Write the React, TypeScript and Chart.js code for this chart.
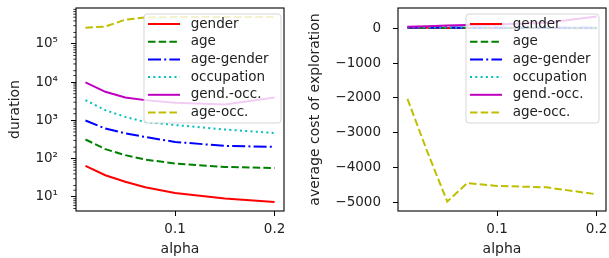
import React, { useEffect, useRef } from 'react';
import { Chart, registerables } from 'chart.js';

Chart.register(...registerables);

// ---------- data ----------
const alphas = [0.01, 0.03, 0.05, 0.07, 0.1, 0.15, 0.2];
const seriesLabels = ['gender', 'age', 'age-gender', 'occupation', 'gend.-occ.', 'age-occ.'];

const durationGender = [65, 37, 25, 18, 12.7, 9.1, 7.4];
const durationAge = [318, 178, 124, 95, 75, 61, 57];
const durationAgeGender = [1000, 615, 460, 370, 275, 216, 204];
const durationOccupation = [3400, 1860, 1240, 910, 760, 580, 470];
const durationGendOcc = [9900, 5600, 4000, 3400, 2900, 2600, 4000];
const durationAgeOcc = [265000, 285000, 430000, 490000, 505000, 505000, 505000];

const costGender = [15, 12, 10, 8, 6, 5, 4];
const costAge = [20, 18, 15, 14, 12, 10, 10];
const costAgeGender = [25, 22, 20, 18, 15, 14, 12];
const costOccupation = [30, 28, 25, 22, 20, 18, 16];
const costGendOcc = [45, 60, 80, 95, 110, 160, 340];
const costAgeOcc = [-2030, -3550, -4980, -4450, -4530, -4570, -4770];

const xTicks = [0.1, 0.2];
const xTickLabels = ['0.1', '0.2'];
const durationMajorTicks = [10, 100, 1000, 10000, 100000];
const durationTickLabels = ['10¹', '10²', '10³', '10⁴', '10⁵'];
const costTicks = [0, -1000, -2000, -3000, -4000, -5000];
const costTickLabels = ['0', '−1000', '−2000', '−3000', '−4000', '−5000'];

// ---------- styles ----------
const colors = ['#ff0000', '#008000', '#0000ff', '#00bfbf', '#bf00bf', '#bfbf00'];
const dashes: number[][] = [[], [7.5, 3.2], [13, 3.2, 2, 3.2], [2, 3.3], [], [7.5, 3.2]];
const FONT = '"DejaVu Sans"';
const TEXT = '#222';

function makeDatasets(values: number[][]) {
  return values.map((v, i) => ({
    label: seriesLabels[i],
    data: alphas.map((a, j) => ({ x: a, y: v[j] })),
    borderColor: colors[i],
    backgroundColor: colors[i],
    borderWidth: 2,
    borderDash: dashes[i],
    pointRadius: 0,
    tension: 0,
    fill: false,
    order: values.length - 1 - i,
  }));
}

const framePlugin = {
  id: 'frame',
  afterDraw(chart: any) {
    const { ctx, chartArea } = chart;
    const { left, top, right, bottom } = chartArea;
    ctx.save();
    ctx.strokeStyle = '#000';
    ctx.lineWidth = 1.1;
    ctx.setLineDash([]);
    ctx.strokeRect(left, top, right - left, bottom - top);
    ctx.restore();
  },
};

const legendPlugin = {
  id: 'boxLegend',
  afterDatasetsDraw(chart: any, _args: any, opts: any) {
    const { ctx, chartArea } = chart;
    const bx = chartArea.right - 140;
    const by = chartArea.top + 6;
    const bw = opts.width || 135;
    const bh = 109;
    const r = 3;
    ctx.save();
    ctx.beginPath();
    ctx.moveTo(bx + r, by);
    ctx.lineTo(bx + bw - r, by);
    ctx.quadraticCurveTo(bx + bw, by, bx + bw, by + r);
    ctx.lineTo(bx + bw, by + bh - r);
    ctx.quadraticCurveTo(bx + bw, by + bh, bx + bw - r, by + bh);
    ctx.lineTo(bx + r, by + bh);
    ctx.quadraticCurveTo(bx, by + bh, bx, by + bh - r);
    ctx.lineTo(bx, by + r);
    ctx.quadraticCurveTo(bx, by, bx + r, by);
    ctx.closePath();
    ctx.fillStyle = 'rgba(255,255,255,0.8)';
    ctx.fill();
    ctx.strokeStyle = 'rgba(204,204,204,0.8)';
    ctx.lineWidth = 1;
    ctx.stroke();
    chart.data.datasets.forEach((ds: any, i: number) => {
      const cy = chartArea.top + 16 + i * 17.7;
      ctx.beginPath();
      ctx.setLineDash(ds.borderDash || []);
      ctx.strokeStyle = ds.borderColor;
      ctx.lineWidth = 2;
      ctx.moveTo(bx + 4, cy);
      ctx.lineTo(bx + 36, cy);
      ctx.stroke();
      ctx.setLineDash([]);
      ctx.fillStyle = TEXT;
      ctx.font = `13.5px ${FONT}`;
      ctx.textBaseline = 'middle';
      ctx.textAlign = 'left';
      ctx.fillText(ds.label, bx + 46.7, cy);
    });
    ctx.restore();
  },
};

const isMajorLog = (v: number) =>
  durationMajorTicks.findIndex((m) => Math.abs(Math.log10(v) - Math.log10(m)) < 1e-6);

const minorTickPlugin = {
  id: 'minorTicks',
  afterDraw(chart: any) {
    const scale = chart.scales.y;
    if (!scale || scale.type !== 'logarithmic') return;
    const { ctx, chartArea } = chart;
    ctx.save();
    ctx.strokeStyle = '#000';
    ctx.lineWidth = 0.8;
    scale.ticks.forEach((t: any) => {
      if (isMajorLog(t.value) >= 0) return;
      const y = scale.getPixelForValue(t.value);
      if (y < chartArea.top + 0.5 || y > chartArea.bottom - 0.5) return;
      ctx.beginPath();
      ctx.moveTo(chartArea.left - 2.7, y);
      ctx.lineTo(chartArea.left, y);
      ctx.stroke();
    });
    ctx.restore();
  },
};

const zeroPad = (s: any) => {
  s.paddingTop = 0;
  s.paddingBottom = 0;
  s.paddingLeft = 0;
  s.paddingRight = 0;
};

function xScale() {
  return {
    type: 'linear',
    min: 0.0005,
    max: 0.2095,
    afterBuildTicks: (s: any) => {
      s.ticks = xTicks.map((v) => ({ value: v }));
    },
    afterFit: (s: any) => {
      s.height = 47;
      zeroPad(s);
    },
    ticks: {
      autoSkip: false,
      maxRotation: 0,
      padding: 5,
      color: TEXT,
      font: { family: FONT, size: 13.5 },
      callback: (v: number) => {
        const k = xTicks.findIndex((t) => Math.abs(t - v) < 1e-9);
        return k >= 0 ? xTickLabels[k] : '';
      },
    },
    grid: { drawOnChartArea: false, tickLength: 5, tickColor: '#000', tickWidth: 1 },
    border: { display: false },
    title: {
      display: true,
      text: 'alpha',
      color: TEXT,
      font: { family: FONT, size: 14 },
      padding: { top: 0, bottom: 0 },
    },
  };
}

function LeftChart() {
  const ref = useRef<HTMLCanvasElement>(null);
  useEffect(() => {
    const chart = new Chart(ref.current as HTMLCanvasElement, {
      type: 'line',
      data: {
        datasets: makeDatasets([
          durationGender,
          durationAge,
          durationAgeGender,
          durationOccupation,
          durationGendOcc,
          durationAgeOcc,
        ]) as any,
      },
      options: {
        animation: false,
        responsive: false,
        devicePixelRatio: 1,
        layout: { padding: { top: 8, right: 16, left: 0, bottom: 0 } },
        plugins: {
          legend: { display: false },
          tooltip: { enabled: false },
          boxLegend: { width: 137 },
        } as any,
        scales: {
          x: xScale() as any,
          y: {
            type: 'logarithmic',
            min: 4.3,
            max: 870000,
            afterFit: (s: any) => {
              s.width = 76;
              zeroPad(s);
            },
            ticks: {
              autoSkip: false,
              padding: 13,
              color: TEXT,
              font: { family: FONT, size: 13.5 },
              callback: (v: any) => {
                const k = isMajorLog(Number(v));
                return k >= 0 ? durationTickLabels[k] : '';
              },
            },
            grid: {
              drawOnChartArea: false,
              tickLength: 5,
              tickWidth: 1,
              tickColor: (c: any) =>
                c.tick && isMajorLog(c.tick.value) >= 0 ? '#000' : 'rgba(0,0,0,0)',
            },
            border: { display: false },
            title: {
              display: true,
              text: 'duration',
              color: TEXT,
              font: { family: FONT, size: 14 },
              padding: { top: 7, bottom: 0 },
            },
          } as any,
        },
      },
      plugins: [legendPlugin, framePlugin, minorTickPlugin] as any,
    });
    return () => chart.destroy();
  }, []);
  return (
    <canvas
      ref={ref}
      width={300}
      height={258}
      style={{ position: 'absolute', left: 0, top: 0, width: 300, height: 258, display: 'block' }}
    />
  );
}

function RightChart() {
  const ref = useRef<HTMLCanvasElement>(null);
  useEffect(() => {
    const chart = new Chart(ref.current as HTMLCanvasElement, {
      type: 'line',
      data: {
        datasets: makeDatasets([
          costGender,
          costAge,
          costAgeGender,
          costOccupation,
          costGendOcc,
          costAgeOcc,
        ]) as any,
      },
      options: {
        animation: false,
        responsive: false,
        devicePixelRatio: 1,
        layout: { padding: { top: 8, right: 3, left: 0, bottom: 0 } },
        plugins: {
          legend: { display: false },
          tooltip: { enabled: false },
          boxLegend: { width: 133 },
        } as any,
        scales: {
          x: xScale() as any,
          y: {
            type: 'linear',
            min: -5250,
            max: 583,
            afterBuildTicks: (s: any) => {
              s.ticks = costTicks.map((v) => ({ value: v }));
            },
            afterFit: (s: any) => {
              s.width = 98;
              zeroPad(s);
            },
            ticks: {
              autoSkip: false,
              padding: 12,
              color: TEXT,
              font: { family: FONT, size: 13.5 },
              callback: (v: any) => {
                const k = costTicks.indexOf(Number(v));
                return k >= 0 ? costTickLabels[k] : '';
              },
            },
            grid: { drawOnChartArea: false, tickLength: 5, tickWidth: 1, tickColor: '#000' },
            border: { display: false },
            title: {
              display: true,
              text: 'average cost of exploration',
              color: TEXT,
              font: { family: FONT, size: 14 },
              padding: { top: 7, bottom: 0 },
            },
          } as any,
        },
      },
      plugins: [legendPlugin, framePlugin] as any,
    });
    return () => chart.destroy();
  }, []);
  return (
    <canvas
      ref={ref}
      width={309}
      height={258}
      style={{ position: 'absolute', left: 300, top: 0, width: 309, height: 258, display: 'block' }}
    />
  );
}

export default function App() {
  return (
    <div
      style={{
        position: 'fixed',
        left: 0,
        top: 0,
        width: 609,
        height: 258,
        background: '#fff',
        overflow: 'hidden',
      }}
    >
      <LeftChart />
      <RightChart />
    </div>
  );
}
